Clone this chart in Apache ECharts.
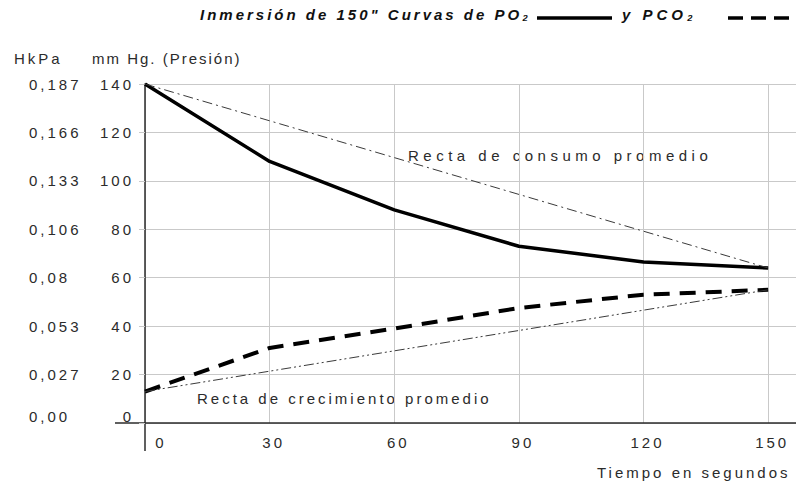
<!DOCTYPE html>
<html>
<head>
<meta charset="utf-8">
<script src="https://cdn.jsdelivr.net/npm/echarts@6/dist/echarts.min.js"></script>
<style>
  html, body { margin: 0; padding: 0; background: #fff; }
  #chart { width: 796px; height: 484px; }
  /* the source figure uses wide letter spacing everywhere */
  #chart text[style*="ls2"], #chart text[font-family*="ls2"] { letter-spacing: 2px; }
  #chart text[style*="ls3"], #chart text[font-family*="ls3"] { letter-spacing: 3px; }
  #chart text[style*="ls4"], #chart text[font-family*="ls4"] { letter-spacing: 4px; }
  #chart text[style*="lsw"], #chart text[font-family*="lsw"] { letter-spacing: 4.5px; }
</style>
</head>
<body>
<div id="chart"></div>
<script>
// tiempo (s)
const seconds = [0, 30, 60, 90, 120, 150];
// presión parcial, mm Hg
const po2 = [140, 108, 88, 73, 66.5, 64];
const pco2 = [13, 31, 39, 47.5, 53, 55];
// rectas promedio: valores en t=0 y t=150
const rectaConsumo = [140, 64];
const rectaCrecimiento = [13, 55];
// etiquetas del eje HkPa, una por cada marca de 20 mm Hg
const hkpaLabels = ['0,00', '0,027', '0,053', '0,08', '0,106', '0,133', '0,166', '0,187'];

const ink = '#2b2b2b';
const gridColor = '#c9c9c9';
const tickFont = 'Liberation Sans, ls3';

const chart = echarts.init(document.getElementById('chart'), null, { renderer: 'svg' });

// the zero labels sit a bit above the x axis line
const yRich = {
  z: { color: ink, fontSize: 15, fontFamily: tickFont, padding: [0, 0, 14, 0] }
};

const option = {
  animation: false,
  backgroundColor: '#fff',
  grid: { left: 145, right: 0, top: 84, bottom: 61 },
  xAxis: {
    type: 'value',
    min: 0,
    max: 156.7,
    interval: 30,
    axisLine: { show: true, lineStyle: { color: ink, width: 1.5 } },
    axisTick: { show: false },
    axisLabel: {
      color: ink,
      fontSize: 15,
      fontFamily: tickFont,
      margin: 12,
      showMaxLabel: false,
      formatter: v => (v > 150 ? '' : v === 0 ? '{z|0}' : '{n|' + v + '}'),
      rich: {
        z: { color: ink, fontSize: 15, fontFamily: tickFont, padding: [0, 0, 0, 32] },
        n: { color: ink, fontSize: 15, fontFamily: tickFont, padding: [0, 0, 0, 8] }
      }
    },
    splitLine: { show: true, lineStyle: { color: gridColor, width: 1 } }
  },
  yAxis: [
    {
      type: 'value',
      min: 0,
      max: 140,
      interval: 20,
      position: 'left',
      axisLine: { show: true, onZero: false, lineStyle: { color: ink, width: 1.5 } },
      axisTick: { show: true, length: 6, lineStyle: { color: gridColor } },
      axisLabel: {
        color: ink,
        fontSize: 15,
        fontFamily: tickFont,
        margin: 11,
        formatter: v => (v === 0 ? '{z|0}' : String(v)),
        rich: yRich
      },
      splitLine: { show: true, lineStyle: { color: gridColor, width: 1 } }
    },
    {
      type: 'value',
      min: 0,
      max: 140,
      interval: 20,
      position: 'left',
      axisLine: { show: false },
      axisTick: { show: false },
      splitLine: { show: false },
      axisLabel: {
        color: ink,
        fontSize: 15,
        fontFamily: tickFont,
        align: 'left',
        margin: 116,
        formatter: v => (v === 0 ? '{z|' + hkpaLabels[0] + '}' : hkpaLabels[Math.round(v / 20)]),
        rich: yRich
      }
    }
  ],
  series: [
    {
      name: 'PO2',
      type: 'line',
      symbol: 'none',
      data: seconds.map((s, i) => [s, po2[i]]),
      lineStyle: { color: '#000', width: 3.5 }
    },
    {
      name: 'PCO2',
      type: 'line',
      symbol: 'none',
      data: seconds.map((s, i) => [s, pco2[i]]),
      lineStyle: { color: '#000', width: 4, type: [16, 10] }
    },
    {
      name: 'Recta de consumo promedio',
      type: 'line',
      symbol: 'none',
      data: [[seconds[0], rectaConsumo[0]], [seconds[5], rectaConsumo[1]]],
      lineStyle: { color: '#3a3a3a', width: 1, type: [10, 4, 2, 4] }
    },
    {
      name: 'Recta de crecimiento promedio',
      type: 'line',
      symbol: 'none',
      data: [[seconds[0], rectaCrecimiento[0]], [seconds[5], rectaCrecimiento[1]]],
      lineStyle: { color: '#3a3a3a', width: 1, type: [10, 3, 2, 3, 2, 3] }
    }
  ],
  graphic: [
    // axis lines run a little past the origin in the source figure
    { type: 'line', shape: { x1: 115, y1: 423, x2: 145, y2: 423 }, style: { stroke: ink, lineWidth: 1.5 } },
    { type: 'line', shape: { x1: 145, y1: 423, x2: 145, y2: 451 }, style: { stroke: ink, lineWidth: 1.5 } },
    // title with legend samples
    { type: 'text', x: 200, y: 14, style: { text: 'Inmersión de 150" Curvas de PO₂', font: 'italic bold 15px Liberation Sans, ls3', fill: '#111', textVerticalAlign: 'middle' } },
    { type: 'line', shape: { x1: 537, y1: 18, x2: 612, y2: 18 }, style: { stroke: '#000', lineWidth: 3.5 } },
    { type: 'text', x: 622, y: 14, style: { text: 'y PCO₂', font: 'italic bold 15px Liberation Sans, ls4', fill: '#111', textVerticalAlign: 'middle' } },
    { type: 'line', shape: { x1: 728, y1: 18, x2: 796, y2: 18 }, style: { stroke: '#000', lineWidth: 3.5, lineDash: [15, 8] } },
    // axis names
    { type: 'text', x: 14, y: 58, style: { text: 'HkPa', font: '15px Liberation Sans, ls3', fill: ink, textVerticalAlign: 'middle' } },
    { type: 'text', x: 92, y: 58, style: { text: 'mm Hg. (Presión)', font: '15px Liberation Sans, ls2', fill: ink, textVerticalAlign: 'middle' } },
    { type: 'text', x: 597, y: 472, style: { text: 'Tiempo en segundos', font: '15px Liberation Sans, ls3', fill: ink, textVerticalAlign: 'middle' } },
    // annotations
    { type: 'text', x: 408, y: 155, style: { text: 'Recta de consumo promedio', font: '15px Liberation Sans, lsw', fill: ink, textVerticalAlign: 'middle' } },
    { type: 'text', x: 197, y: 398, style: { text: 'Recta de crecimiento promedio', font: '15px Liberation Sans, ls3', fill: ink, textVerticalAlign: 'middle' } }
  ]
};

chart.setOption(option);
</script>
</body>
</html>
